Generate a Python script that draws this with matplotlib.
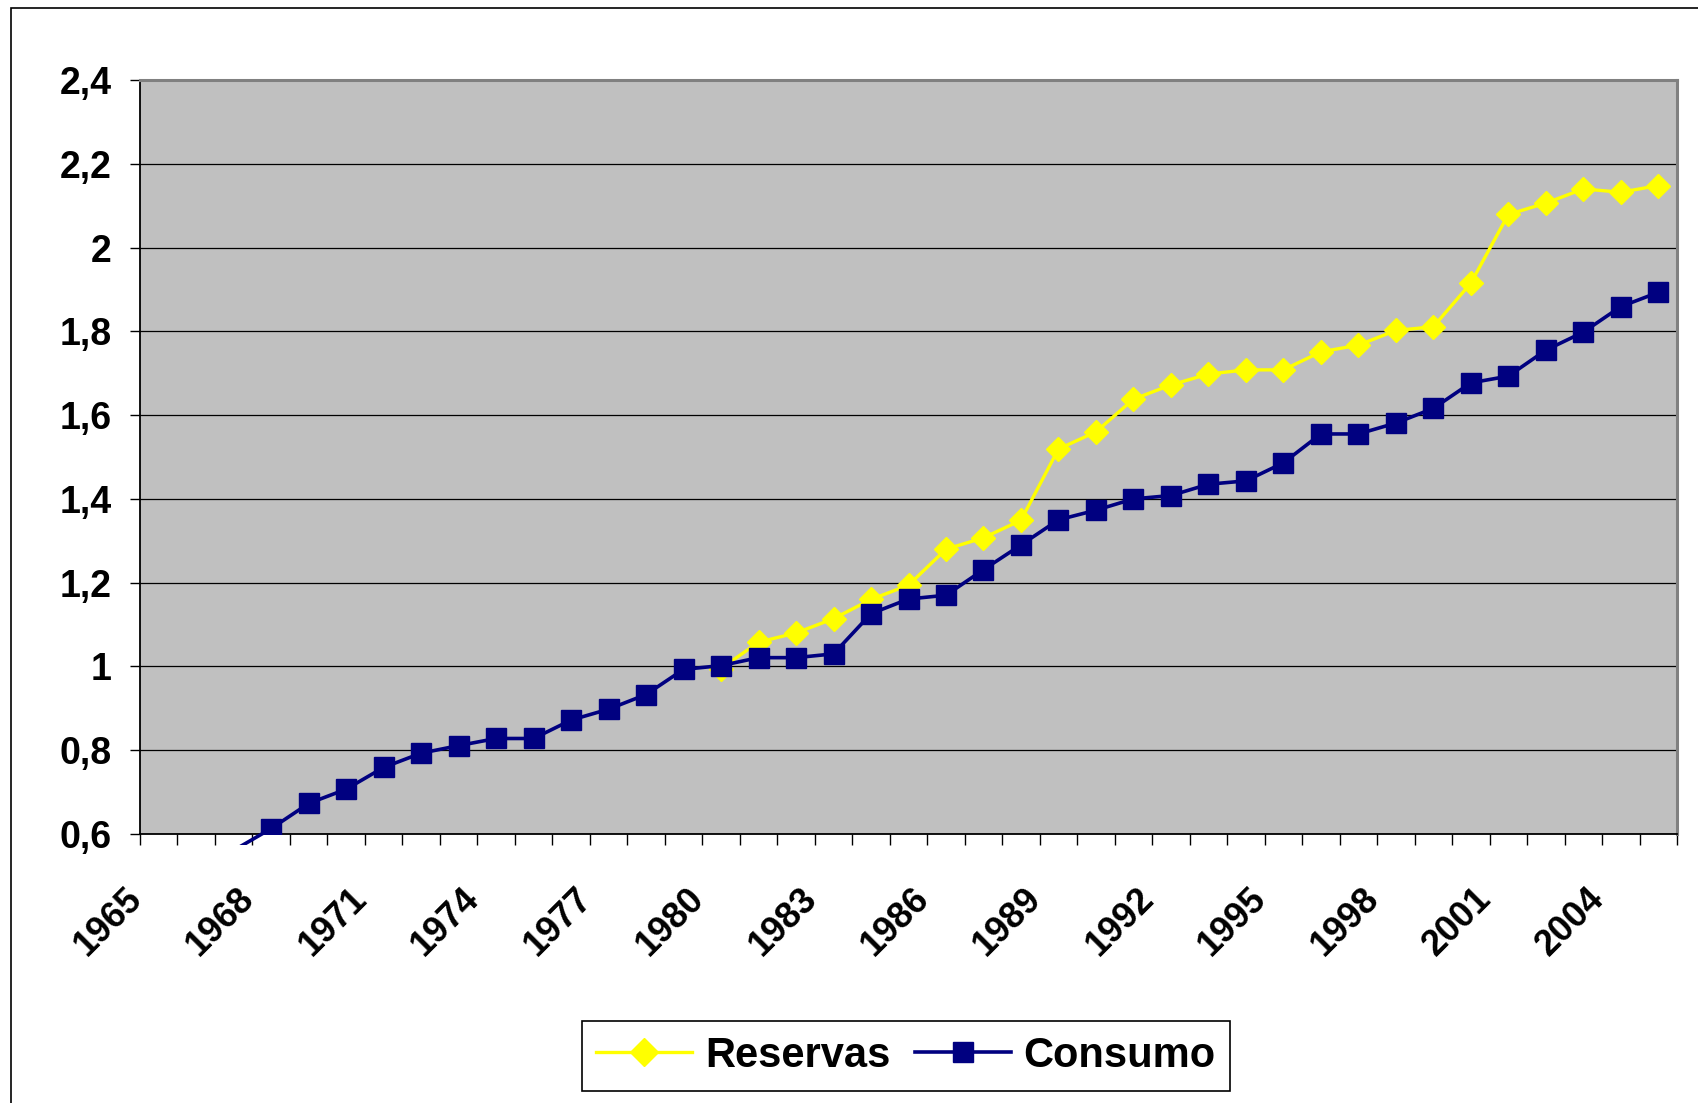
import numpy as np
import matplotlib
matplotlib.use("Agg")
import matplotlib.pyplot as plt
from matplotlib.lines import Line2D
from matplotlib.patches import Rectangle
from matplotlib.transforms import Bbox, TransformedBbox, ScaledTranslation

plt.rcParams['font.family'] = ['Liberation Sans', 'DejaVu Sans']
plt.rcParams['font.weight'] = 'bold'

# years shown on the category axis
years = list(range(1965, 2006))

# Consumo: 1965-1966 fall below the axis, 1967 only shows as a clipped line
consumo = [np.nan, np.nan, 0.561,
           0.613, 0.673, 0.707, 0.759, 0.793, 0.811, 0.828, 0.828, 0.872, 0.898,
           0.933, 0.993, 1.002, 1.021, 1.021, 1.030, 1.126, 1.161, 1.170, 1.231,
           1.290, 1.350, 1.373, 1.400, 1.408, 1.435, 1.443, 1.486, 1.555, 1.555,
           1.581, 1.616, 1.677, 1.693, 1.755, 1.798, 1.859, 1.893]

# Reservas start in 1980
reservas = [np.nan] * 15 + [
    0.995, 1.058, 1.080, 1.114, 1.160, 1.194, 1.280, 1.307, 1.349, 1.519,
    1.560, 1.638, 1.672, 1.698, 1.708, 1.708, 1.751, 1.767, 1.802, 1.811,
    1.915, 2.079, 2.106, 2.140, 2.132, 2.148]

yticks = [0.6, 0.8, 1.0, 1.2, 1.4, 1.6, 1.8, 2.0, 2.2, 2.4]
ytick_labels = ['0,6', '0,8', '1', '1,2', '1,4', '1,6', '1,8', '2', '2,2', '2,4']

NAVY = '#000080'
YELLOW = '#FFFF00'

W, H = 1699, 1103
fig = plt.figure(figsize=(W / 100, H / 100), dpi=100)
fig.patch.set_facecolor('white')

ax = fig.add_axes([140 / W, 1 - 834 / H, (1677 - 140) / W, (834 - 80) / H])
ax.set_facecolor('#C0C0C0')

x = np.arange(len(years))

ax.plot(x, reservas, color=YELLOW, lw=2.4, marker='D', ms=12.5,
        mfc=YELLOW, mec=YELLOW, solid_joinstyle='round', zorder=3)

# Consumo line may run a little below the plot area, markers stay inside
ln, = ax.plot(x, consumo, color=NAVY, lw=2.6, solid_joinstyle='round', zorder=4)
ln.set_clip_path(None)
ln.set_clip_box(TransformedBbox(Bbox([[0, -11 / 754], [1, 1]]), ax.transAxes))
ax.plot(x, consumo, ls='none', marker='s', ms=15, mfc=NAVY, mec=NAVY, zorder=5)

ax.set_xlim(-0.5, len(years) - 0.5)
ax.set_ylim(0.6, 2.4)

ax.set_yticks(yticks)
ax.set_yticklabels(ytick_labels)
ax.yaxis.grid(True, color='black', lw=0.9)
ax.set_axisbelow(True)

# ticks at category boundaries, every third one labelled
bounds = np.arange(len(years) + 1) - 0.5
xlabels = [str(years[i]) if (i < len(years) and i % 3 == 0) else '' for i in range(len(bounds))]
ax.set_xticks(bounds)
ax.set_xticklabels(xlabels, rotation=45, ha='right', va='top')

ax.tick_params(axis='y', direction='out', length=7.5, width=1, pad=13,
               labelsize=27, colors='black')
ax.tick_params(axis='x', direction='out', length=8, width=1, pad=26,
               labelsize=26, colors='black')
shift = ScaledTranslation(9 / 100, 0, fig.dpi_scale_trans)
for lab in ax.get_xticklabels():
    lab.set_fontweight('bold')
    lab.set_transform(lab.get_transform() + shift)
for lab in ax.get_yticklabels():
    lab.set_fontweight('bold')

for side in ['left', 'bottom']:
    ax.spines[side].set_color('black')
    ax.spines[side].set_linewidth(1.3)
for side in ['top', 'right']:
    ax.spines[side].set_color('#808080')
    ax.spines[side].set_linewidth(2.2)

# outer chart border
fig.patches.append(Rectangle((11 / W, -0.5), 2, 0.5 + 1 - 8 / H, transform=fig.transFigure,
                             fill=False, edgecolor='black', lw=1.2, clip_on=False))

handles = [
    Line2D([], [], color=YELLOW, lw=2.4, marker='D', ms=14, mfc=YELLOW, mec=YELLOW),
    Line2D([], [], color=NAVY, lw=2.6, marker='s', ms=15, mfc=NAVY, mec=NAVY),
]
leg = fig.legend(handles, ['Reservas', 'Consumo'], loc='center',
                 bbox_to_anchor=(906 / W, 1 - 1056 / H), ncol=2,
                 prop={'size': 30, 'weight': 'bold'}, frameon=True, fancybox=False,
                 edgecolor='black', framealpha=1, handlelength=2.3,
                 handletextpad=0.3, columnspacing=0.6, borderpad=0.35)
leg.get_frame().set_linewidth(1.2)

fig.savefig('out.png', dpi=100, facecolor='white')
